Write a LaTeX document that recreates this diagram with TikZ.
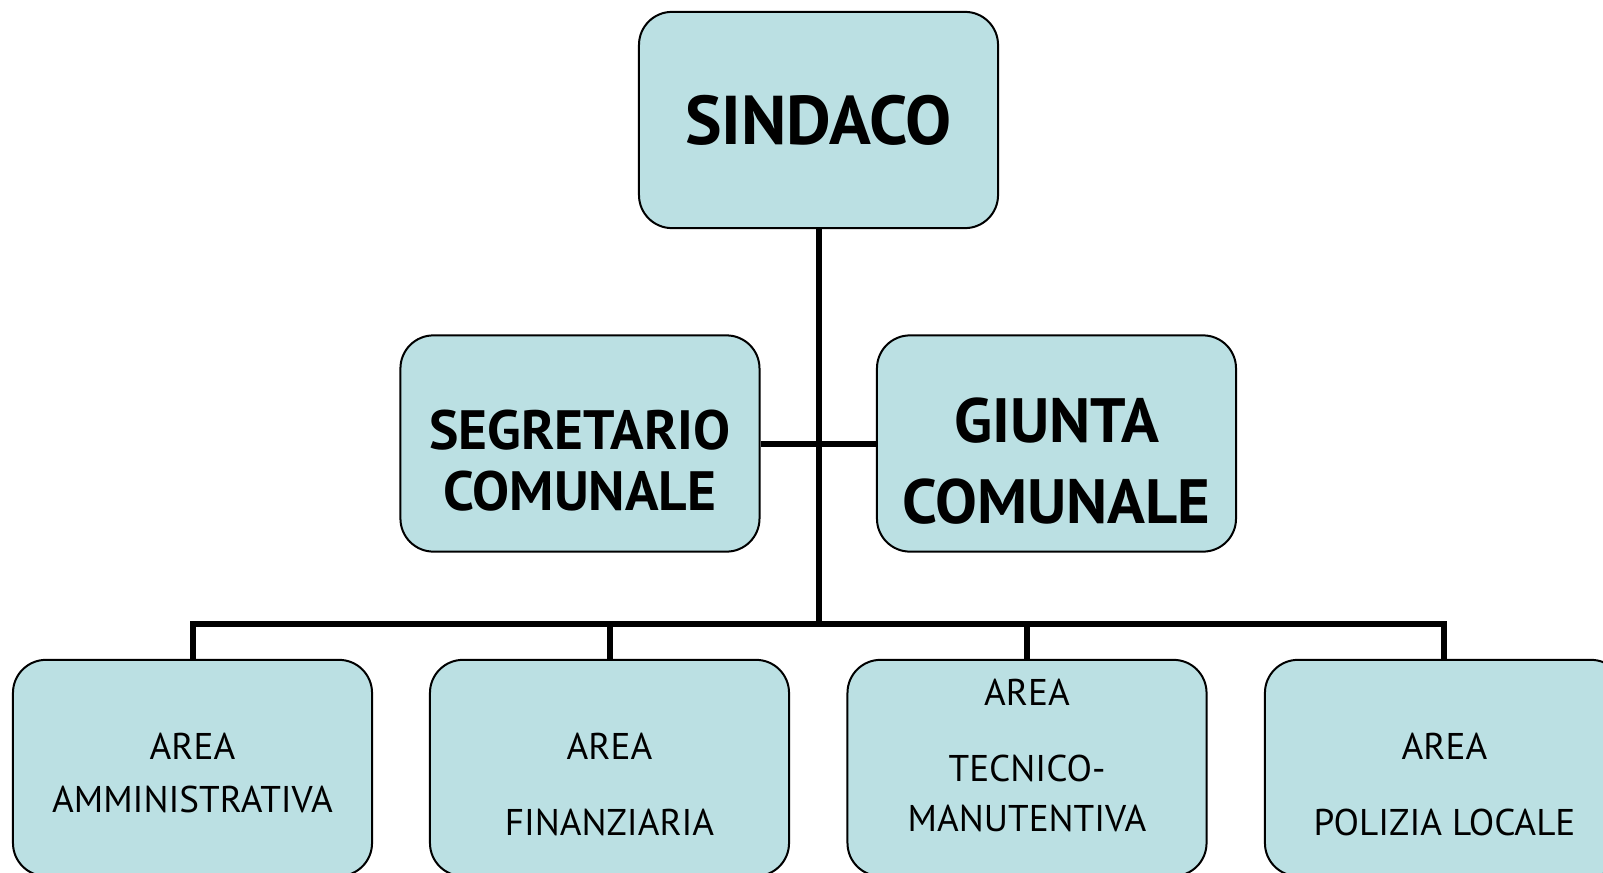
\documentclass[tikz,border=0pt]{standalone}
\usepackage{fontspec}
\setmainfont{PT Sans}
\definecolor{boxblue}{RGB}{187,224,227}
\tikzset{
    orgbox/.style={draw, line width=1pt, fill=boxblue, minimum width=6.31cm, minimum height=3.8cm, rounded corners=0.58cm, align=center},
    areabox/.style={orgbox, font=\fontsize{18.6}{25}\selectfont, text depth=0pt},
    link/.style={line width=3pt, line join=miter}
}
\begin{document}
\begin{tikzpicture}
    \useasboundingbox (0,0) rectangle (28.17,15.324);
    \clip (0,0) rectangle (28.17,15.324);

    % Sindaco
    \node[orgbox, font=\fontsize{34.5}{40}\selectfont\bfseries] (sindaco) at (14.384,13.215) {SINDACO};

    % Segretario e Giunta
    \node[orgbox, font=\fontsize{27.7}{30.5}\selectfont\bfseries, text height=66.5pt, text depth=0pt] (segretario) at (10.192,7.530)
        {SEGRETARIO\\COMUNALE};
    \node[orgbox, font=\fontsize{31.3}{40.5}\selectfont\bfseries, text height=79.5pt, text depth=0pt] (giunta) at (18.566,7.530)
        {GIUNTA\\COMUNALE};

    % Aree
    \node[areabox, text height=45pt] (amministrativa) at (3.383,1.828)
        {AREA\\[1.5pt]AMMINISTRATIVA};
    \node[areabox, text height=67.5pt] (finanziaria) at (10.711,1.828)
        {AREA\\[13pt]FINANZIARIA};
    \node[areabox, text height=64pt] (tecnica) at (18.048,1.828)
        {AREA\\[13pt]TECNICO-\\MANUTENTIVA};
    \node[areabox, text height=67.5pt] (polizia) at (25.384,1.828)
        {AREA\\[13pt]POLIZIA LOCALE};

    % Collegamenti
    \coordinate (bus) at (14.384,4.358);
    \draw[link] (sindaco) -- (bus);
    \draw[link] (segretario) -- (giunta);
    \draw[link] (amministrativa.north) |- (bus) -| (polizia.north);
    \draw[link] (finanziaria.north) -- (finanziaria.north |- bus);
    \draw[link] (tecnica.north) -- (tecnica.north |- bus);
\end{tikzpicture}
\end{document}
